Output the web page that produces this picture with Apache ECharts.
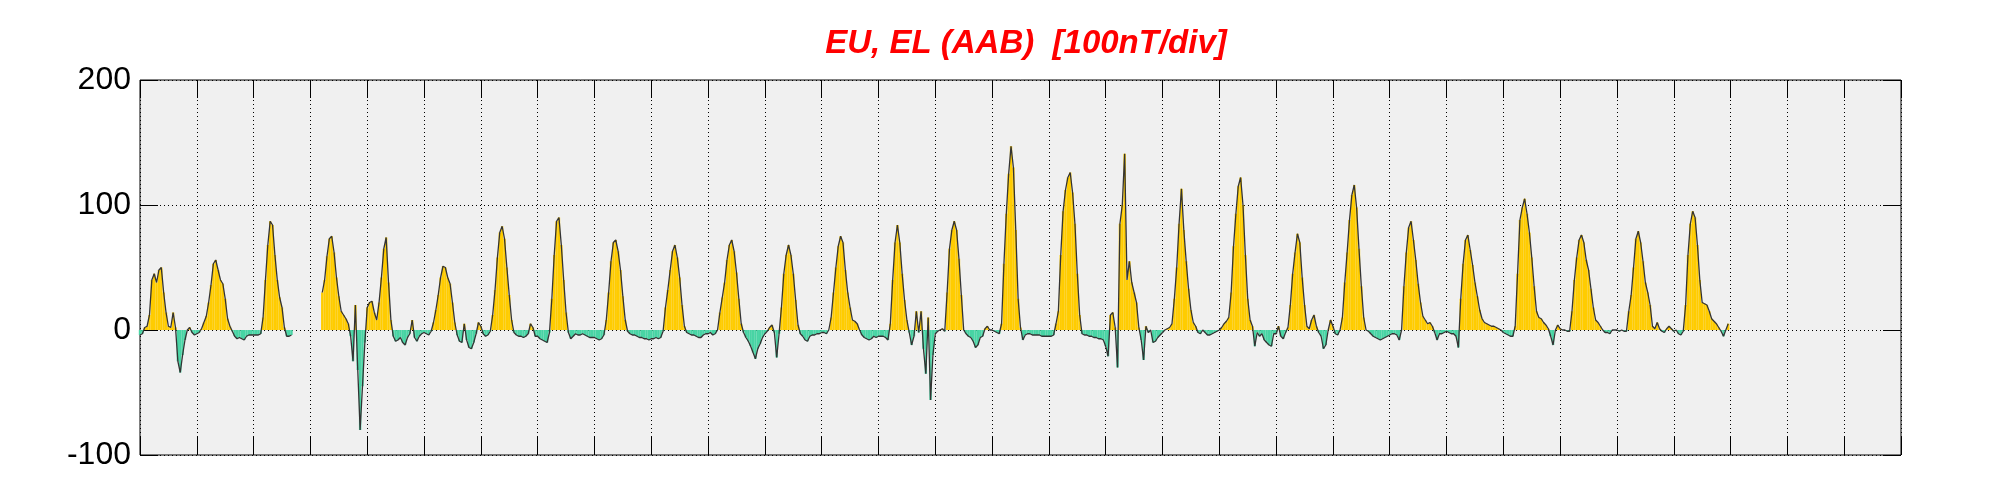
<!DOCTYPE html>
<html>
<head>
<meta charset="utf-8">
<script src="https://cdn.jsdelivr.net/npm/echarts@6/dist/echarts.min.js"></script>
<style>
html,body{margin:0;padding:0;background:#fff;}
#chart{width:2001px;height:500px;}
</style>
</head>
<body>
<div id="chart"></div>
<script>
// Hourly values (nT), one array per week of the month; null = no data
const week1 = [
  -4,-3,2,3,12,40,45,38,48,50,30,14,3,2,14,2,-25,-34,-20,-8,0,2,-2,-4,
  -3,-2,1,6,11,22,36,53,56,48,40,37,25,9,3,-1,-5,-7,-6,-7,-8,-5,-4,-4,
  -4,-4,-4,-3,10,40,68,87,84,60,40,26,18,2,-5,-5,-4,null,null,null,null,null,null,null,
  null,null,null,null,null,30,40,59,73,75,62,42,27,15,12,9,5,-5,-25,20,-32,-80,-45,-10,
  18,22,23,14,8,22,42,65,74,38,8,-5,-9,-8,-6,-10,-12,-6,-3,8,-6,-9,-5,-3,
  -2,-3,-4,-1,6,16,28,42,51,50,42,37,22,6,-4,-9,-10,5,-8,-14,-15,-10,-3,6,
  3,-3,-5,-4,-1,12,32,58,78,83,73,50,28,8,-2,-4,-5,-5,-6,-5,-3,5,2,-5
];
const week2 = [
  -5,-7,-8,-9,-10,-2,25,60,87,90,68,40,14,-2,-7,-5,-3,-4,-4,-3,-4,-5,-6,-6,
  -6,-7,-8,-7,-4,8,30,55,70,72,63,48,27,8,-1,-3,-4,-4,-5,-6,-6,-7,-7,-8,
  -7,-7,-6,-7,-6,-1,18,32,48,63,68,58,42,20,3,-2,-3,-4,-4,-5,-6,-6,-4,-3,
  -3,-2,-4,-3,0,14,26,38,56,68,72,63,46,25,5,-2,-6,-9,-13,-18,-23,-15,-11,-6,
  -3,-1,2,4,-2,-22,-3,18,45,60,68,60,45,24,4,-3,-5,-8,-9,-5,-4,-4,-3,-3,
  -2,-2,-3,0,10,30,50,67,75,70,48,30,18,8,7,5,0,-4,-6,-7,-8,-7,-5,-6,
  -5,-5,-5,-6,-8,5,40,70,84,70,45,24,8,-2,-12,-5,15,-2,15,-15,-35,10,-56,-20
];
const week3 = [
  -3,-1,0,1,-1,30,65,80,87,80,57,28,0,-3,-5,-6,-9,-14,-12,-6,-5,1,3,0,
  0,-1,-2,-3,5,53,93,125,147,130,80,25,2,-8,-4,-3,-3,-4,-4,-4,-4,-5,-5,-5,
  -5,-5,-4,5,15,60,95,112,122,126,110,85,45,12,-3,-4,-4,-5,-5,-6,-6,-7,-7,-8,
  -13,-21,12,14,2,-30,85,100,141,40,55,38,30,22,2,-8,-24,3,-2,0,-10,-9,-6,-4,
  -2,0,1,2,5,25,50,85,113,80,55,33,16,6,3,-2,-3,0,-2,-4,-4,-3,-2,-1,
  0,2,5,7,10,30,67,93,115,122,100,60,25,8,3,-13,-2,-5,-3,-8,-10,-12,-13,-3,
  -3,3,-5,-7,-2,2,20,45,62,77,70,42,20,3,1,8,12,3,-2,-5,-15,-12,0,8
];
const week4 = [
  3,-3,-4,0,10,38,62,88,108,116,98,65,35,10,0,-1,-3,-5,-6,-7,-8,-7,-6,-5,
  -4,-3,-3,-4,-8,0,35,62,82,87,72,56,37,22,11,8,5,6,3,-2,-8,-3,-3,-2,
  -1,-2,-3,-3,-5,-14,25,53,72,76,64,52,38,27,16,9,6,5,4,3,3,2,1,0,
  -2,-3,-4,-5,-5,3,45,88,98,105,93,78,58,35,15,10,9,6,4,1,-5,-12,0,4,
  1,0,0,-1,-1,15,40,58,72,76,70,56,48,33,18,8,6,3,0,-2,-2,-3,0,0,
  0,-1,0,-1,-1,15,28,50,73,79,70,55,38,30,20,3,1,6,1,-1,-2,1,3,1,
  -1,0,-3,-4,-1,20,60,85,95,90,68,40,22,21,20,15,9,7,5,2,-1,-5,0,5
];
const yTicks = [-100, 0, 100, 200];
const titleText = 'EU, EL (AAB)  [100nT/div]';
const daysInMonth = 31;

const values = [].concat(week1, week2, week3, week4);
const pts = values.map((v, i) => [i, v]);

const chart = echarts.init(document.getElementById('chart'), null, {renderer: 'canvas'});
const dotted = {color: '#000', width: 1, type: [1, 3]};
const fontFam = '"Liberation Sans", Arial, Helvetica, sans-serif';
const tick = () => ({show: true, inside: true, length: 18, lineStyle: {color: '#000', width: 1}});

chart.setOption({
  animation: false,
  backgroundColor: '#ffffff',
  title: {
    text: titleText,
    left: 1021, top: 22, textAlign: 'center',
    textStyle: {color: '#ff0000', fontSize: 33, fontWeight: 'bold', fontStyle: 'italic', fontFamily: fontFam}
  },
  grid: {
    left: 140, right: 100, top: 80, bottom: 45,
    show: true, backgroundColor: '#f0f0f0', borderColor: '#000', borderWidth: 1
  },
  xAxis: [
    {type: 'value', min: 0, max: daysInMonth * 24, interval: 24, position: 'bottom',
     axisLine: {show: false, onZero: false}, axisLabel: {show: false},
     axisTick: tick(), splitLine: {show: true, lineStyle: dotted}},
    {type: 'value', min: 0, max: daysInMonth * 24, interval: 24, position: 'top',
     axisLine: {show: false, onZero: false}, axisLabel: {show: false},
     axisTick: tick(), splitLine: {show: false}}
  ],
  yAxis: [
    {type: 'value', min: yTicks[0], max: yTicks[yTicks.length - 1], interval: 100, position: 'left',
     axisLine: {show: false, onZero: false},
     axisTick: tick(),
     splitLine: {show: true, lineStyle: dotted},
     axisLabel: {show: true, margin: 9, color: '#000', fontSize: 32, fontFamily: fontFam}},
    {type: 'value', min: yTicks[0], max: yTicks[yTicks.length - 1], interval: 100, position: 'right',
     axisLine: {show: false, onZero: false},
     axisTick: tick(),
     splitLine: {show: false}, axisLabel: {show: false}}
  ],
  series: [
    {type: 'bar', xAxisIndex: 0, yAxisIndex: 0, data: pts, barWidth: 2.4,
     itemStyle: {color: p => (p.value[1] >= 0 ? '#ffcc00' : '#48d4a4')}, silent: true},
    {type: 'line', xAxisIndex: 0, yAxisIndex: 0, data: pts, showSymbol: false, connectNulls: false,
     lineStyle: {color: '#333333', width: 1.3}, silent: true, z: 5}
  ]
});
</script>
</body>
</html>
